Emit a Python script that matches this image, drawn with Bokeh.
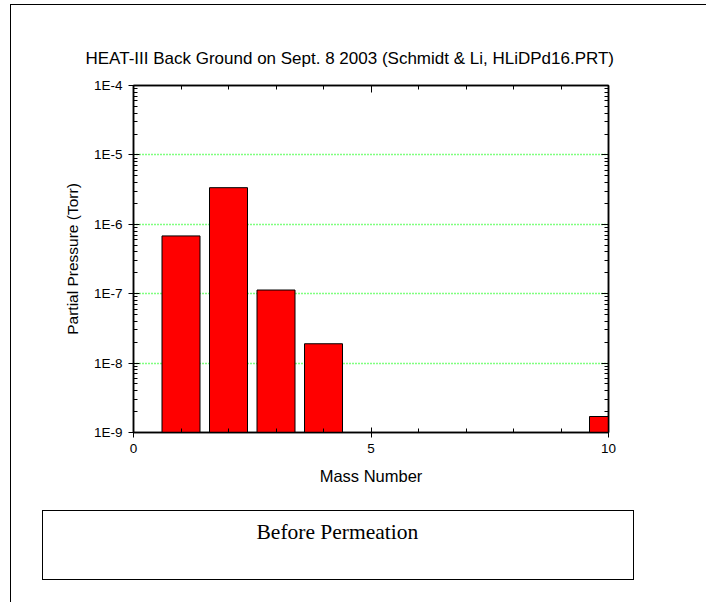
from bokeh.plotting import figure
from bokeh.layouts import column
from bokeh.models import (LinearAxis, LogAxis, SingleIntervalTicker, LogTicker,
                          CustomJSTickFormatter, Range1d, ColumnDataSource, Title, Div)
from bokeh.embed import file_html
from bokeh.resources import INLINE

# ---- data ----
mass_number = [1, 2, 3, 4, 10]
partial_pressure = [6.8e-7, 3.37e-6, 1.13e-7, 1.9e-8, 1.7e-9]
title_text = "HEAT-III Back Ground on Sept. 8 2003 (Schmidt & Li, HLiDPd16.PRT)"
x_label = "Mass Number"
y_label = "Partial Pressure (Torr)"
note_text = "Before Permeation"
x_limits = (0, 10)
y_limits = (1e-9, 1e-4)
bar_width = 0.8

SANS = "Liberation Sans"
SERIF = "Liberation Serif"

W, H = 706, 602
FL, FR, FT, FB = 133, 608.5, 85, 431.7  # frame edges in pixels

src = ColumnDataSource(dict(x=mass_number, top=partial_pressure))

p = figure(width=W, height=H, y_axis_type="log",
           x_range=Range1d(*x_limits), y_range=Range1d(*y_limits),
           output_backend="svg", toolbar_location=None,
           min_border_left=FL, min_border_right=round(W - FR),
           min_border_top=FT, min_border_bottom=round(H - FB),
           background_fill_color="white", border_fill_color=None,
           outline_line_color="black", outline_line_width=1.5)

p.title.text = title_text
p.title.text_font = SANS
p.title.text_font_size = "17px"
p.title.text_font_style = "normal"
p.title.text_color = "black"
p.title.align = "left"
p.title.offset = -48
p.title.standoff = 36

xa = p.xaxis[0]
xa.ticker = SingleIntervalTicker(interval=5, num_minor_ticks=5)
xa.axis_label = x_label
xa.axis_label_text_font = SANS
xa.axis_label_text_font_style = "normal"
xa.axis_label_text_font_size = "16.5px"
xa.axis_label_text_color = "black"
xa.axis_label_standoff = 11
xa.major_label_text_font = SANS
xa.major_label_text_font_size = "13.5px"
xa.major_label_text_color = "black"
xa.major_label_standoff = 6
xa.axis_line_width = 1.5
xa.axis_line_color = "black"
xa.major_tick_in = 5
xa.major_tick_out = 5
xa.minor_tick_in = 4
xa.minor_tick_out = 0

ya = p.yaxis[0]
ya.ticker = LogTicker(desired_num_ticks=6, num_minor_ticks=10)
ya.formatter = CustomJSTickFormatter(code="return '1E' + Math.round(Math.log10(tick));")
ya.axis_label = y_label
ya.axis_label_text_font = SANS
ya.axis_label_text_font_style = "normal"
ya.axis_label_text_font_size = "15.5px"
ya.axis_label_text_color = "black"
ya.axis_label_standoff = 10
ya.major_label_text_font = SANS
ya.major_label_text_font_size = "13.5px"
ya.major_label_text_color = "black"
ya.major_label_standoff = 6
ya.axis_line_width = 1.5
ya.axis_line_color = "black"
ya.major_tick_in = 6
ya.major_tick_out = 5
ya.minor_tick_in = 4
ya.minor_tick_out = 0

blank = CustomJSTickFormatter(code="return '';")
top_axis = LinearAxis(ticker=SingleIntervalTicker(interval=5, num_minor_ticks=5),
                      formatter=blank, major_label_text_font_size="1px",
                      major_label_standoff=0,
                      major_tick_in=7, major_tick_out=0,
                      minor_tick_in=4, minor_tick_out=0,
                      axis_line_width=1.5, axis_line_color="black")
p.add_layout(top_axis, "above")
right_axis = LogAxis(ticker=LogTicker(desired_num_ticks=6, num_minor_ticks=10),
                     formatter=blank, major_label_text_font_size="1px",
                     major_label_standoff=0,
                     major_tick_in=7, major_tick_out=0,
                     minor_tick_in=4, minor_tick_out=0,
                     axis_line_width=1.5, axis_line_color="black")
p.add_layout(right_axis, "right")

p.xgrid.visible = False
p.ygrid.grid_line_color = "#00FF00"
p.ygrid.grid_line_dash = "1 2"
p.ygrid.grid_line_width = 1.3

p.vbar(x="x", top="top", bottom=y_limits[0], width=bar_width, source=src,
       fill_color="#FF0000", line_color="black", line_width=1)

# note text below the axis
p.add_layout(Title(text=note_text, text_font=SERIF, text_font_size="21.5px",
                   text_font_style="normal", text_color="black",
                   align="left", offset=123, standoff=60), "below")

# outer frame (top and left edges visible) and note box
top_line = Div(text="", width=696, height=2, margin=0,
               styles={"position": "fixed", "left": "10px", "top": "4px",
                       "border-top": "1.5px solid black",
                       "box-sizing": "border-box", "pointer-events": "none"})
left_line = Div(text="", width=2, height=598, margin=0,
                styles={"position": "fixed", "left": "10px", "top": "4px",
                        "border-left": "1.5px solid black",
                        "box-sizing": "border-box", "pointer-events": "none"})
note_div = Div(text="", width=592, height=70, margin=0,
               styles={"position": "fixed", "left": "42px", "top": "510px",
                       "border": "1.5px solid black",
                       "box-sizing": "border-box", "pointer-events": "none"})

layout = column(p, top_line, left_line, note_div)
open("out.html", "w").write(file_html(layout, INLINE))
